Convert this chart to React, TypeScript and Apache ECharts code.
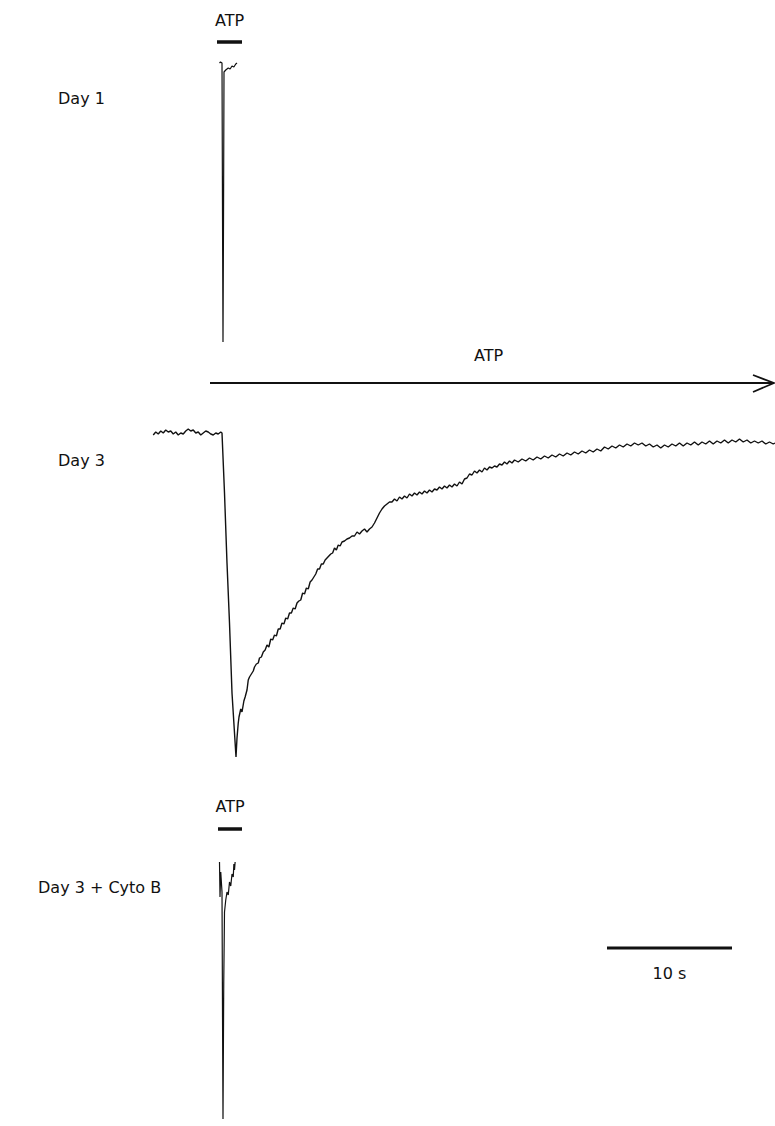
import React, { useEffect, useRef } from "react";
import * as echarts from "echarts";

// ---- Data (time in s relative to ATP onset, current in arbitrary units) ----
const day1Trace: [number, number][] = [
  [-0.2, 0.0], [-0.12, 0.01], [0.0, 0.0], [0.04, -1.5], [0.08, -2.79], [0.12, -1.6],
  [0.16, -0.09], [0.3, -0.07], [0.5, -0.05], [0.65, -0.06], [0.8, -0.03], [0.95, -0.04],
  [1.1, -0.01], [1.2, 0.0],
];

const day3Trace: [number, number][] = [
  [-5.5, -0.02], [-5.3, 0.01], [-5.1, -0.01], [-4.9, 0.02], [-4.7, 0.0], [-4.5, 0.03],
  [-4.3, 0.01], [-4.1, 0.02], [-3.9, -0.01], [-3.7, 0.01], [-3.5, -0.02], [-3.3, 0.0],
  [-3.1, -0.01], [-2.9, 0.02], [-2.7, 0.04], [-2.5, 0.02], [-2.3, 0.03], [-2.1, 0.0],
  [-1.9, 0.01], [-1.7, -0.02], [-1.5, 0.0], [-1.3, 0.02], [-1.1, 0.01], [-0.9, -0.01],
  [-0.7, -0.02], [-0.5, 0.0], [-0.3, -0.01], [-0.1, 0.01], [0.0, 0.0],
  [0.2, -0.6], [0.4, -1.3], [0.6, -1.9], [0.8, -2.6], [1.0, -3.0], [1.12, -3.24],
  [1.2, -3.05], [1.3, -2.9], [1.36, -2.84], [1.5, -2.76], [1.6, -2.79], [1.75, -2.68],
  [1.85, -2.64], [2.0, -2.57], [2.1, -2.47], [2.2, -2.44], [2.35, -2.41], [2.5, -2.38],
  [2.6, -2.34], [2.75, -2.31], [2.9, -2.3], [3.0, -2.25], [3.15, -2.24], [3.3, -2.19],
  [3.45, -2.17], [3.6, -2.12], [3.75, -2.14], [3.9, -2.06], [4.05, -2.07], [4.2, -2.02],
  [4.35, -2.03], [4.5, -1.96], [4.65, -1.96], [4.8, -1.9], [4.95, -1.91], [5.1, -1.85],
  [5.25, -1.86], [5.4, -1.8], [5.55, -1.8], [5.7, -1.75], [5.85, -1.76], [6.0, -1.7],
  [6.15, -1.68], [6.3, -1.67], [6.45, -1.6], [6.6, -1.61], [6.75, -1.55], [6.9, -1.56],
  [7.05, -1.49], [7.2, -1.47], [7.35, -1.44], [7.5, -1.41], [7.65, -1.36], [7.8, -1.36],
  [7.95, -1.31], [8.1, -1.31], [8.25, -1.27], [8.4, -1.25], [8.55, -1.23], [8.7, -1.21],
  [8.85, -1.2], [9.0, -1.15], [9.15, -1.17], [9.3, -1.12], [9.45, -1.13], [9.6, -1.09],
  [9.8, -1.08], [10.0, -1.06], [10.2, -1.05], [10.4, -1.03], [10.6, -1.03], [10.8, -0.99],
  [11.0, -1.01], [11.2, -0.98], [11.4, -0.96], [11.6, -0.99], [11.8, -0.96], [12.0, -0.94],
  [12.2, -0.9], [12.4, -0.85], [12.6, -0.8], [12.8, -0.76], [13.0, -0.73], [13.2, -0.71],
  [13.4, -0.69], [13.6, -0.69], [13.8, -0.66], [14.0, -0.68], [14.2, -0.64], [14.4, -0.66],
  [14.6, -0.63], [14.8, -0.65], [15.0, -0.61], [15.2, -0.63], [15.4, -0.6], [15.6, -0.62],
  [15.8, -0.59], [16.0, -0.61], [16.2, -0.58], [16.4, -0.6], [16.6, -0.57], [16.8, -0.59],
  [17.0, -0.56], [17.2, -0.57], [17.4, -0.54], [17.6, -0.56], [17.8, -0.53], [18.0, -0.55],
  [18.2, -0.52], [18.4, -0.54], [18.6, -0.51], [18.8, -0.53], [19.0, -0.49], [19.2, -0.51],
  [19.4, -0.46], [19.6, -0.45], [19.8, -0.41], [20.0, -0.42], [20.2, -0.38], [20.4, -0.4],
  [20.6, -0.37], [20.8, -0.39], [21.0, -0.35], [21.2, -0.37], [21.4, -0.34], [21.6, -0.35],
  [21.8, -0.33], [22.0, -0.34], [22.2, -0.31], [22.4, -0.32], [22.6, -0.29], [22.8, -0.31],
  [23.0, -0.28], [23.2, -0.3], [23.4, -0.27], [23.7, -0.29], [24.0, -0.26], [24.3, -0.28],
  [24.6, -0.25], [24.9, -0.27], [25.2, -0.24], [25.5, -0.26], [25.8, -0.23], [26.1, -0.25],
  [26.4, -0.22], [26.7, -0.24], [27.0, -0.21], [27.3, -0.23], [27.6, -0.2], [27.9, -0.22],
  [28.2, -0.19], [28.5, -0.21], [28.8, -0.18], [29.1, -0.2], [29.4, -0.17], [29.7, -0.19],
  [30.0, -0.16], [30.3, -0.18], [30.6, -0.14], [30.9, -0.16], [31.2, -0.13], [31.5, -0.15],
  [31.8, -0.12], [32.1, -0.14], [32.4, -0.11], [32.7, -0.13], [33.0, -0.1], [33.3, -0.12],
  [33.6, -0.1], [33.9, -0.13], [34.2, -0.11], [34.5, -0.14], [34.8, -0.12], [35.1, -0.15],
  [35.4, -0.12], [35.7, -0.14], [36.0, -0.11], [36.3, -0.13], [36.6, -0.1], [36.9, -0.13],
  [37.2, -0.1], [37.5, -0.12], [37.8, -0.09], [38.1, -0.12], [38.4, -0.09], [38.7, -0.11],
  [39.0, -0.08], [39.3, -0.11], [39.6, -0.08], [39.9, -0.1], [40.2, -0.07], [40.5, -0.1],
  [40.8, -0.07], [41.1, -0.09], [41.4, -0.06], [41.7, -0.09], [42.0, -0.07], [42.3, -0.1],
  [42.6, -0.08], [42.9, -0.1], [43.2, -0.08], [43.5, -0.11], [43.8, -0.09], [44.1, -0.11],
  [44.24, -0.1],
];

const cytoTrace: [number, number][] = [
  [-0.2, 0.0], [-0.16, -0.35], [-0.1, -0.1], [0.0, -0.3], [0.04, -1.5], [0.08, -2.57],
  [0.14, -1.2], [0.2, -0.5], [0.3, -0.38], [0.4, -0.3], [0.5, -0.33], [0.6, -0.2],
  [0.7, -0.24], [0.8, -0.12], [0.9, -0.15], [0.95, -0.02], [1.0, -0.08], [1.05, 0.0],
];

const panelLabels = ["Day 1", "Day 3", "Day 3 + Cyto B"];
const stimulusLabel = "ATP";
const day1Pulse: [number, number] = [-0.4, 1.6];
const cytoPulse: [number, number] = [-0.32, 1.6];
const continuousStart = -0.96;
const scaleBarStart = 30.8;
const scaleBarSeconds = 10;
const scaleBarLabel = "10 s";

const X_MIN = -17.76;
const X_MAX = 44.24;
const yRanges: [number, number][] = [[-2.9, 0.1], [-3.4, 0.1], [-2.64, 0.1]];

const FONT = "DejaVu Sans";

export default function App() {
  const ref = useRef<HTMLDivElement>(null);
  useEffect(() => {
    if (!ref.current) return;
    const chart = echarts.init(ref.current, null, { renderer: "svg" });
    const grids = [
      { left: 0, width: 775, top: 53, height: 300 },
      { left: 0, width: 775, top: 423, height: 350 },
      { left: 0, width: 775, top: 852, height: 274 },
    ];
    const traces = [day1Trace, day3Trace, cytoTrace];
    chart.setOption({
      animation: false,
      grid: grids,
      xAxis: grids.map((_, i) => ({ type: "value", gridIndex: i, min: X_MIN, max: X_MAX, show: false })),
      yAxis: grids.map((_, i) => ({ type: "value", gridIndex: i, min: yRanges[i][0], max: yRanges[i][1], show: false })),
      series: traces.map((d, i) => ({
        type: "line",
        xAxisIndex: i,
        yAxisIndex: i,
        data: d,
        showSymbol: false,
        clip: false,
        lineStyle: { color: "#111", width: i === 1 ? 1.4 : 1.2 },
      })),
    });

    const px = (i: number, t: number, v: number) =>
      chart.convertToPixel({ xAxisIndex: i, yAxisIndex: i }, [t, v]) as number[];
    const txt = (x: number, y: number, text: string, align = "center") => ({
      type: "text",
      x,
      y,
      style: { text, fill: "#111", font: `16px '${FONT}'`, textAlign: align, textVerticalAlign: "middle" },
    });
    const line = (a: number[], b: number[], w: number) => ({
      type: "line",
      shape: { x1: a[0], y1: a[1], x2: b[0], y2: b[1] },
      style: { stroke: "#111", lineWidth: w },
    });

    const g: any[] = [];
    // Day 1 pulse
    const b1a = px(0, day1Pulse[0], 0.21), b1b = px(0, day1Pulse[1], 0.21);
    g.push(line(b1a, b1b, 3.5));
    g.push(txt((b1a[0] + b1b[0]) / 2, b1a[1] - 22, stimulusLabel));
    // Day 3 continuous arrow
    const aa = px(1, continuousStart, 0.5), ab = px(1, X_MAX, 0.5);
    g.push(line(aa, [ab[0] - 1, ab[1]], 1.8));
    g.push({
      type: "polyline",
      shape: { points: [[ab[0] - 22, ab[1] - 8], [ab[0] - 1, ab[1]], [ab[0] - 22, ab[1] + 9]] },
      style: { stroke: "#111", lineWidth: 1.8, fill: "none" },
    });
    g.push(txt((aa[0] + ab[0]) / 2 - 4, aa[1] - 28, stimulusLabel));
    // Cyto B pulse
    const c1 = px(2, cytoPulse[0], 0.33), c2 = px(2, cytoPulse[1], 0.33);
    g.push(line(c1, c2, 3.5));
    g.push(txt((c1[0] + c2[0]) / 2, c1[1] - 23, stimulusLabel));
    // Scale bar
    const s1 = px(2, scaleBarStart, -0.86), s2 = px(2, scaleBarStart + scaleBarSeconds, -0.86);
    g.push(line(s1, s2, 3));
    g.push(txt((s1[0] + s2[0]) / 2, s1[1] + 25, scaleBarLabel));
    // Panel labels
    g.push(txt(58, 98, panelLabels[0], "left"));
    g.push(txt(58, 460, panelLabels[1], "left"));
    g.push(txt(38, 887, panelLabels[2], "left"));

    chart.setOption({ graphic: g });
    return () => chart.dispose();
  }, []);
  return (
    <div
      ref={ref}
      style={{ position: "absolute", left: 0, top: 0, width: 775, height: 1126, background: "#fff" }}
    />
  );
}
